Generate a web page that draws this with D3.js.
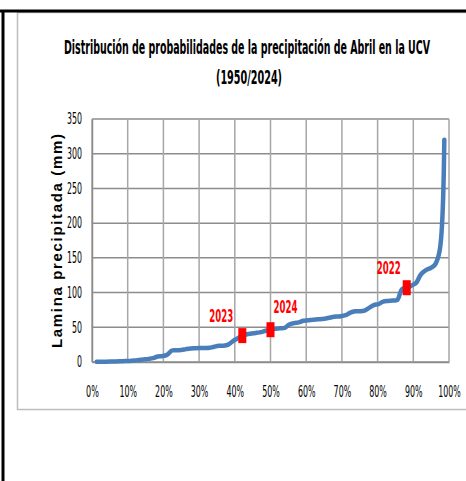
<!DOCTYPE html>
<html>
<head>
<meta charset="utf-8">
<script src="https://cdn.jsdelivr.net/npm/d3@7"></script>
<style>
body { margin: 0; background: #fff; }
svg { display: block; }
</style>
</head>
<body>
<div id="chart"></div>
<script>
// distribucion de probabilidades - lluvia de abril UCV

const svgWidth = 466
const svgHeight = 481

// precipitation values sorted, 1950-2024 (75 years), mm
const lamina = [0.3, 0.4, 0.5, 0.6, 0.8, 1.0, 1.3, 1.6, 2.2, 3.0,
	3.8, 4.5, 5.5, 8.0, 8.5, 10.5, 16.5, 17.0, 17.2, 18.5,
	19.5, 19.8, 20.0, 20.2, 20.5, 22.0, 23.5, 23.5, 25.0, 30.0,
	34.0, 38.0, 40.0, 41.0, 42.0, 43.0, 45.0, 46.5, 48.0, 48.5,
	49.0, 54.0, 56.0, 57.0, 59.5, 60.0, 61.0, 61.5, 62.0, 63.0,
	64.5, 65.5, 66.0, 67.5, 71.0, 73.0, 73.0, 74.0, 78.0, 82.0,
	83.5, 87.0, 88.0, 88.5, 89.5, 105.0, 107.0, 110.0, 114.0, 126.0,
	132.0, 135.0, 140.0, 160.0, 320.0]

// highlighted years (rank in the sorted list)
const destacados = ["2023", "2024", "2022"]
const destacadosRank = [32, 38, 67]

const yTicks = [0, 50, 100, 150, 200, 250, 300, 350]
const xTicks = [0, 0.1, 0.2, 0.3, 0.4, 0.5, 0.6, 0.7, 0.8, 0.9, 1]

const n = lamina.length
var puntos = lamina.map(function(v, i) { return {p: (i + 1) / (n + 1), v: v} })

var svg = d3.select("#chart")
	.append("svg")
	.attr("width", svgWidth)
	.attr("height", svgHeight)

// outer frame
svg.append("rect")
	.attr("x", 17.5).attr("y", 12.5)
	.attr("width", 460).attr("height", 397)
	.style("fill", "none")
	.style("stroke", "#bdbdbd")
	.style("stroke-width", 1.5)
svg.append("line")
	.attr("x1", 0).attr("x2", svgWidth).attr("y1", 11).attr("y2", 11)
	.style("stroke", "#000").style("stroke-width", 3)
svg.append("line")
	.attr("x1", 3).attr("x2", 3).attr("y1", 10).attr("y2", svgHeight)
	.style("stroke", "#000").style("stroke-width", 3)

const plotLeft = 92, plotRight = 449, plotTop = 119, plotBottom = 362

var x = d3.scaleLinear().domain([0, 1]).range([plotLeft, plotRight])
var y = d3.scaleLinear().domain([0, 350]).range([plotBottom, plotTop])

var font = "'DejaVu Sans Condensed', 'Liberation Sans Narrow', 'Liberation Sans', sans-serif"

// narrow text width (the original is squeezed horizontally)
function ancho(s, dig, pct) {
	var w = 0
	for (var k = 0; k < s.length; k++) w += (s[k] == "%" ? pct : dig)
	return w
}

// title
svg.append("text")
	.attr("x", 247).attr("y", 54)
	.attr("text-anchor", "middle")
	.attr("textLength", 366)
	.attr("lengthAdjust", "spacingAndGlyphs")
	.style("font-family", font)
	.style("font-weight", "bold")
	.style("font-size", "19px")
	.text("Distribución de probabilidades de la precipitación de Abril en la UCV")
svg.append("text")
	.attr("x", 249).attr("y", 84)
	.attr("text-anchor", "middle")
	.attr("textLength", 66)
	.attr("lengthAdjust", "spacingAndGlyphs")
	.style("font-family", font)
	.style("font-weight", "bold")
	.style("font-size", "19px")
	.text("(1950/2024)")

// grid
var grid = svg.append("g")
grid.selectAll(".hg")
	.data(yTicks)
	.enter().append("line")
	.attr("x1", plotLeft).attr("x2", plotRight)
	.attr("y1", function(d) { return y(d) }).attr("y2", function(d) { return y(d) })
	.style("stroke", "#8c8c8c").style("stroke-width", 1.5)
grid.selectAll(".vg")
	.data(xTicks)
	.enter().append("line")
	.attr("x1", function(d) { return x(d) }).attr("x2", function(d) { return x(d) })
	.attr("y1", plotTop).attr("y2", plotBottom)
	.style("stroke", "#a6a6a6").style("stroke-width", 1.5)

// axes
var yAxis = svg.append("g")
	.attr("transform", "translate(" + plotLeft + ",0)")
	.call(d3.axisLeft(y).tickValues(yTicks).tickSize(0).tickPadding(10))
yAxis.select(".domain").style("stroke", "#8c8c8c").style("stroke-width", 1.5)
yAxis.selectAll("text")
	.attr("textLength", function() { return ancho(this.textContent, 5, 8) })
	.attr("lengthAdjust", "spacingAndGlyphs")
	.style("font-family", font)
	.style("font-size", "15px")
	.style("fill", "#000")

var xAxis = svg.append("g")
	.attr("transform", "translate(0," + plotBottom + ")")
	.call(d3.axisBottom(x).tickValues(xTicks).tickSize(0).tickPadding(24).tickFormat(d3.format(".0%")))
xAxis.select(".domain").style("stroke", "#8c8c8c").style("stroke-width", 1.5)
xAxis.selectAll("text")
	.attr("textLength", function() { return ancho(this.textContent, 4.8, 8) })
	.attr("lengthAdjust", "spacingAndGlyphs")
	.style("font-family", font)
	.style("font-size", "15px")
	.style("fill", "#000")

// y axis title
svg.append("text")
	.attr("transform", "translate(62,241) rotate(-90)")
	.attr("text-anchor", "middle")
	.attr("textLength", 214)
	.attr("lengthAdjust", "spacing")
	.style("font-family", "'Liberation Sans', Arial, sans-serif")
	.style("font-weight", "bold")
	.style("font-size", "15px")
	.text("Lamina precipitada (mm)")

// curve
var linea = d3.line()
	.x(function(d) { return x(d.p) })
	.y(function(d) { return y(d.v) })
	.curve(d3.curveCatmullRom.alpha(0.5))

svg.append("path")
	.attr("d", linea(puntos))
	.style("fill", "none")
	.style("stroke", "#4a7ebb")
	.style("stroke-width", 4.5)
	.style("stroke-linejoin", "round")
	.style("stroke-linecap", "round")

// markers
var marcas = destacadosRank.map(function(r, i) { return {anio: destacados[i], p: puntos[r - 1].p, v: puntos[r - 1].v} })

svg.selectAll(".marca")
	.data(marcas)
	.enter().append("rect")
	.attr("x", function(d) { return x(d.p) - 4 })
	.attr("y", function(d) { return y(d.v) - 7.5 })
	.attr("width", 8).attr("height", 15)
	.style("fill", "#ff0000")

svg.selectAll(".etiq")
	.data(marcas)
	.enter().append("text")
	.attr("x", function(d) { return x(d.p) + (d.anio == "2023" ? -21 : (d.anio == "2024" ? 15 : -18)) })
	.attr("y", function(d) { return y(d.v) - (d.anio == "2024" ? 17 : 14) })
	.attr("text-anchor", "middle")
	.attr("textLength", 24)
	.attr("lengthAdjust", "spacingAndGlyphs")
	.style("font-family", font)
	.style("font-weight", "bold")
	.style("font-size", "17px")
	.style("fill", "#ff0000")
	.text(function(d) { return d.anio })
</script>
</body>
</html>
